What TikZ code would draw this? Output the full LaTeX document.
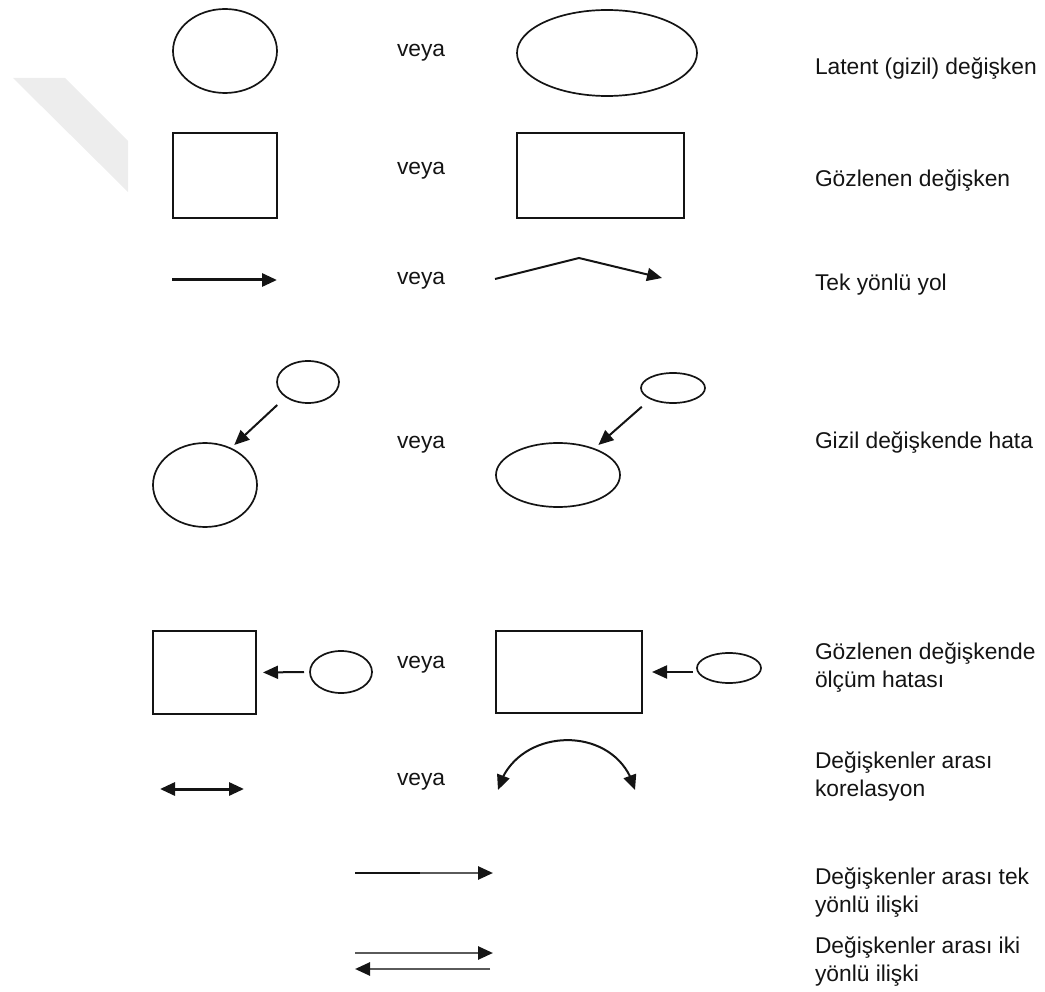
\documentclass[tikz,border=0pt]{standalone}
\usepackage{fontspec}
\setmainfont{Liberation Sans}
\usetikzlibrary{arrows.meta,bending,shapes.geometric}
\definecolor{ink}{HTML}{141414}
\definecolor{bandgrey}{HTML}{EDEDED}
\definecolor{greyline}{HTML}{5A5A5A}
\tikzset{
  shapeline/.style={draw=ink, line width=1.7pt},
  ellnode/.style={ellipse, shapeline, inner sep=0pt, outer sep=0pt},
  boxnode/.style={rectangle, shapeline, inner sep=0pt, outer sep=0pt},
  headed/.style={-{Triangle[length=15pt,width=13pt,color=ink]}},
  twoheaded/.style={{Triangle[length=15pt,width=13pt,color=ink]}-{Triangle[length=15pt,width=13pt,color=ink]}},
  pathline/.style={draw=ink, line width=2pt},
  word/.style={anchor=base west, inner sep=0pt, outer sep=0pt, text=ink,
               font=\fontsize{22.8}{28}\selectfont},
}
\newcommand{\twolines}[2]{\begin{tabular}[t]{@{}l@{}}#1\\#2\end{tabular}}
\begin{document}
\begin{tikzpicture}[x=1pt,y=-1pt]
\useasboundingbox (0,0) rectangle (1045,992);

% faint band in the upper left corner
\fill[bandgrey] (13,78) -- (65,78) -- (128,141) -- (128,192) -- cycle;

% row 1: latent variable
\node[ellnode, minimum width=104pt, minimum height=84pt] (lat1) at (225,51) {};
\node[word] (or1) at (397,57) {veya};
\node[ellnode, minimum width=180pt, minimum height=86pt] (lat2) at (607,53) {};
\node[word] (lab1) at (815,75) {Latent (gizil) değişken};

% row 2: observed variable
\node[boxnode, minimum width=104pt, minimum height=85pt] (obs1) at (225,175.5) {};
\node[word] (or2) at (397,175) {veya};
\node[boxnode, minimum width=167pt, minimum height=85pt] (obs2) at (600.5,175.5) {};
\node[word] (lab2) at (815,187) {Gözlenen değişken};

% row 3: one-way path
\coordinate (p1a) at (172,280);
\coordinate (p1b) at (277,280);
\draw[pathline, line width=3pt, headed] (p1a) -- (p1b);
\node[word] (or3) at (397,285) {veya};
\coordinate (p2a) at (495,279);
\coordinate (p2m) at (579,258);
\coordinate (p2b) at (662,278);
\draw[pathline, headed] (p2a) -- (p2m) -- (p2b);
\node[word] (lab3) at (815,291) {Tek yönlü yol};

% row 4: error on a latent variable
\node[ellnode, minimum width=104pt, minimum height=84pt] (big4l) at (205,485) {};
\node[ellnode, minimum width=62pt, minimum height=42pt] (err4l) at (308,382) {};
\draw[pathline, headed, shorten <=12pt, shorten >=5pt] (err4l.214) -- (big4l.55);
\node[word] (or4) at (397,449) {veya};
\node[ellnode, minimum width=124pt, minimum height=64pt] (big4r) at (558,475) {};
\node[ellnode, minimum width=64pt, minimum height=30pt] (err4r) at (673,388) {};
\draw[pathline, headed, shorten <=12pt, shorten >=6pt] (err4r.206) -- (big4r.36);
\node[word] (lab4) at (815,449) {Gizil değişkende hata};

% row 5: measurement error on an observed variable
\node[boxnode, minimum width=103pt, minimum height=83pt] (obs5l) at (204.5,672.5) {};
\node[ellnode, minimum width=62pt, minimum height=42pt] (err5l) at (341,672) {};
\draw[pathline, headed, shorten <=6pt, shorten >=7pt] (err5l.west) -- (obs5l.east);
\node[word] (or5) at (397,668) {veya};
\node[boxnode, minimum width=146pt, minimum height=82pt] (obs5r) at (569,672) {};
\node[ellnode, minimum width=64pt, minimum height=30pt] (err5r) at (729,668) {};
\draw[pathline, headed, shorten <=4pt, shorten >=10pt] (err5r.west |- obs5r.east) -- (obs5r.east);
\node[word] (lab5) at (815,659) {\twolines{Gözlenen değişkende}{ölçüm hatası}};

% row 6: correlation
\coordinate (c1a) at (160,789);
\coordinate (c1b) at (244,789);
\draw[pathline, line width=3pt, twoheaded] (c1a) -- (c1b);
\node[word] (or6) at (397,785) {veya};
\coordinate (c2a) at (498,790);
\coordinate (c2b) at (635,790);
\draw[pathline, twoheaded] (c2a) .. controls (515,725) and (618,722) .. (c2b);
\node[word] (lab6) at (815,768) {\twolines{Değişkenler arası}{korelasyon}};

% row 7: one-way relation
\coordinate (d1a) at (355,873);
\coordinate (d1m) at (420,873);
\coordinate (d1b) at (493,873);
\draw[draw=ink, line width=1.8pt] (d1a) -- (d1m);
\draw[draw=greyline, line width=2.6pt, headed] (d1m) -- (d1b);
\node[word] (lab7) at (815,884) {\twolines{Değişkenler arası tek}{yönlü ilişki}};

% row 8: two-way relation
\coordinate (e1a) at (355,953);
\coordinate (e1b) at (493,953);
\coordinate (e2a) at (490,969);
\coordinate (e2b) at (355,969);
\draw[draw=greyline, line width=2.6pt, headed] (e1a) -- (e1b);
\draw[draw=greyline, line width=2.6pt, headed] (e2a) -- (e2b);
\node[word] (lab8) at (815,953) {\twolines{Değişkenler arası iki}{yönlü ilişki}};
\end{tikzpicture}
\end{document}
